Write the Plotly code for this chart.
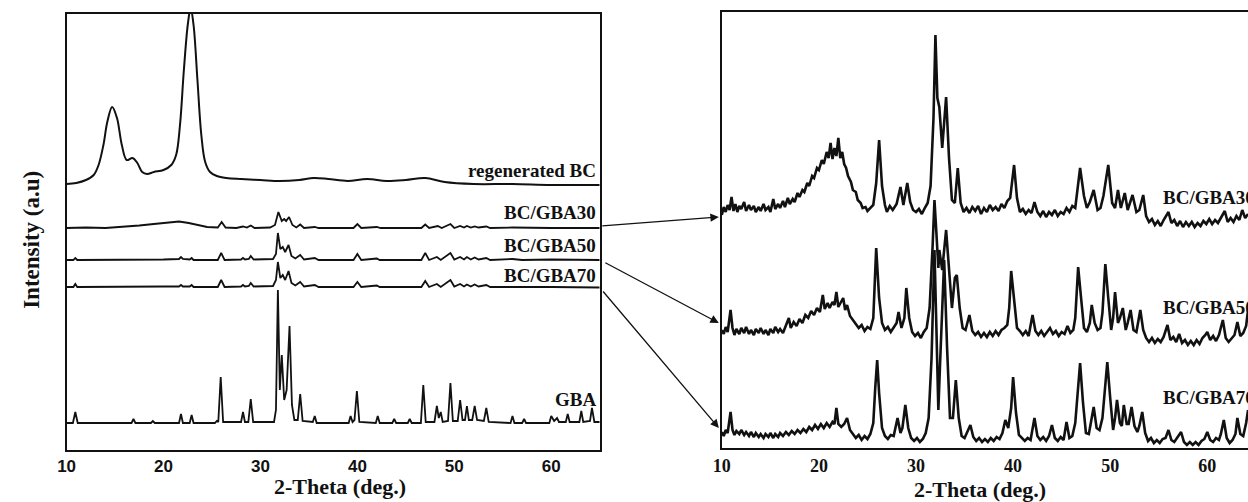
import plotly.graph_objects as go

W, H = 1248, 502

# ---------------- data (2-theta in degrees, intensity in a.u., stacked) ----------------
# Left panel
REGEN_BC = [(10, 266), (11, 267), (12, 270), (12.8, 275), (13.3, 285), (13.8, 305), (14.2, 328),
            (14.7, 343), (15.2, 332), (15.7, 305), (16.2, 290), (16.8, 292), (17.3, 287), (17.8, 278),
            (18.3, 276), (19, 278), (20, 280), (20.8, 285), (21.3, 295), (21.7, 325), (22.1, 380),
            (22.5, 425), (22.8, 442), (23.1, 425), (23.5, 370), (23.9, 315), (24.3, 288), (24.8, 278),
            (25.5, 274), (26.5, 272), (28, 271), (30, 270), (32, 269), (34, 270), (35.5, 272),
            (37, 271), (39, 269), (41, 271), (43, 269), (45, 270), (47, 272), (49, 268), (52, 266),
            (56, 266), (60, 265), (65, 265)]

GBA30_L = [(10, 222), (12, 222.5), (14, 222), (16, 223), (17.5, 224.5), (19, 226), (20.5, 227.5),
           (21.6, 228.5), (22.6, 227), (23.5, 225), (24.5, 223), (25.6, 222.5), (26.0, 228),
           (26.4, 222.5), (27.5, 222), (28.2, 223.5), (28.6, 222.5), (29.0, 224.5), (29.4, 222),
           (31.0, 222.5), (31.5, 225), (31.85, 238), (32.2, 229), (32.45, 231), (32.65, 229),
           (32.95, 233), (33.3, 225), (33.7, 222.5), (34.1, 225.5), (34.5, 222), (35.6, 223),
           (36, 222), (39.6, 222), (40.0, 226), (40.4, 222), (42.0, 223), (42.4, 222), (46.6, 222),
           (47.0, 225.5), (47.4, 222), (48.3, 224), (48.7, 222), (49.6, 226), (50.0, 222),
           (50.6, 224), (51.0, 222.5), (51.3, 224), (51.7, 222.5), (52.1, 223.5), (52.5, 222.5),
           (53.3, 223.5), (53.7, 222), (56, 222.5), (60, 222), (65, 222)]

GBA50_L = [(10, 190), (10.7, 190), (10.9, 192), (11.1, 190), (20, 190.5), (21.6, 191), (21.8, 193),
           (22.0, 191), (22.7, 190.5), (22.9, 192), (23.1, 190), (25.6, 190), (25.95, 197),
           (26.3, 190), (28.0, 190.5), (28.2, 192), (28.4, 190.5), (28.8, 191), (29.0, 194),
           (29.3, 190.5), (31.3, 191), (31.6, 196), (31.8, 217), (32.05, 201), (32.3, 203),
           (32.55, 198), (32.9, 205), (33.2, 194), (33.6, 191.5), (34.1, 195), (34.5, 190.5),
           (35.6, 192), (36, 190), (39.6, 190), (40.0, 196), (40.4, 190), (42.0, 191.5), (42.3, 190),
           (46.6, 190), (47.0, 197), (47.4, 190), (48.2, 193), (48.6, 190), (49.6, 197), (50.0, 190.5),
           (50.6, 193), (51.0, 190.5), (51.3, 193), (51.7, 190.5), (52.1, 192.5), (52.5, 190.5),
           (53.3, 192), (53.7, 190), (56, 191), (57, 190), (60, 190.5), (65, 190)]

GBA70_L = [(10, 163), (10.7, 163), (10.9, 166), (11.1, 163), (20, 163.5), (21.6, 163.5), (21.8, 165),
           (22.0, 163.5), (22.7, 163.5), (22.9, 165), (23.1, 163), (25.6, 163), (25.95, 170),
           (26.3, 163), (28.0, 163.5), (28.2, 165), (28.4, 163.5), (28.8, 164), (29.0, 167),
           (29.3, 163.5), (31.3, 164), (31.6, 170), (31.8, 188), (32.05, 172), (32.3, 175),
           (32.55, 170), (32.9, 179), (33.2, 167), (33.6, 164.5), (34.1, 168), (34.5, 163.5),
           (35.6, 165), (36, 163), (39.6, 163), (40.0, 168), (40.4, 163), (42.0, 164.5), (42.3, 163),
           (46.6, 163), (47.0, 169), (47.4, 163), (48.2, 166), (48.6, 163), (49.6, 170), (50.0, 163.5),
           (50.6, 166), (51.0, 163.5), (51.3, 165.5), (51.7, 163.5), (52.1, 165.5), (52.5, 163.5),
           (53.3, 165), (53.7, 163), (56, 163.5), (57, 163), (60, 163), (65, 162.5)]

GBA_L = [(10, 27), (10.65, 27), (10.9, 38), (11.15, 27), (16.7, 27), (16.9, 31), (17.1, 27),
         (18.7, 27), (18.9, 29), (19.1, 27), (21.6, 27), (21.8, 36), (22.0, 27), (22.7, 27),
         (22.9, 35), (23.1, 27), (25.3, 27), (25.5, 29), (25.65, 28), (25.9, 73), (26.15, 28),
         (28.0, 28), (28.2, 38), (28.4, 28), (28.75, 28), (29.0, 51), (29.25, 28), (31.4, 28),
         (31.6, 40), (31.8, 160), (32.0, 60), (32.2, 95), (32.45, 50), (32.7, 60), (33.0, 124),
         (33.25, 45), (33.5, 30), (33.85, 30), (34.1, 56), (34.35, 29), (35.4, 28), (35.6, 34),
         (35.8, 27), (39.1, 27), (39.3, 34), (39.5, 28), (39.7, 30), (39.95, 59), (40.2, 28),
         (41.9, 27), (42.1, 34), (42.3, 27), (43.6, 27), (43.8, 31), (44.0, 27), (45.2, 27),
         (45.4, 31), (45.6, 27), (46.55, 27), (46.8, 65), (47.05, 28), (47.95, 28), (48.2, 44),
         (48.4, 32), (48.6, 38), (48.8, 28), (49.35, 29), (49.6, 67), (49.85, 29), (50.35, 29),
         (50.6, 50), (50.85, 30), (51.1, 30), (51.3, 44), (51.5, 30), (51.85, 30), (52.1, 44),
         (52.35, 30), (53.05, 29), (53.3, 42), (53.55, 28), (55.8, 27), (56.0, 34), (56.2, 27),
         (57.0, 27), (57.2, 31), (57.4, 27), (59.8, 27), (60.0, 34), (60.3, 29), (60.6, 32),
         (60.8, 28), (61.5, 28), (61.7, 36), (61.9, 28), (62.9, 28), (63.1, 39), (63.3, 28),
         (64.0, 29), (64.2, 42), (64.45, 28), (65, 28)]

# Right panel (noisy patterns)
GBA30_R = [(10.0, 233), (10.2, 241), (10.4, 236), (10.6, 243), (10.8, 238), (11.0, 251), (11.2, 237),
           (11.4, 244), (11.6, 236), (11.8, 242), (12.0, 239), (12.3, 246), (12.5, 237), (12.8, 243),
           (13.0, 238), (13.3, 242), (13.5, 236), (13.8, 241), (14.0, 237), (14.3, 244), (14.5, 238),
           (14.8, 241), (15.0, 236), (15.3, 249), (15.5, 239), (15.8, 244), (16.0, 240), (16.3, 247),
           (16.5, 241), (16.8, 250), (17.0, 244), (17.3, 249), (17.5, 246), (17.8, 255), (18.0, 251),
           (18.3, 258), (18.5, 256), (18.8, 265), (19.0, 262), (19.3, 272), (19.5, 270), (19.8, 280),
           (20.0, 278), (20.3, 288), (20.5, 284), (20.8, 296), (21.0, 290), (21.2, 305), (21.4, 289),
           (21.6, 300), (21.8, 292), (22.0, 310), (22.2, 290), (22.4, 296), (22.6, 284), (22.8, 280),
           (23.0, 272), (23.3, 266), (23.5, 258), (23.8, 256), (24.0, 248), (24.3, 245), (24.5, 240),
           (24.8, 241), (25.0, 237), (25.3, 240), (25.6, 243), (25.9, 265), (26.2, 308), (26.5, 262),
           (26.8, 243), (27.0, 236), (27.3, 242), (27.6, 238), (28.0, 244), (28.4, 261), (28.7, 243),
           (29.1, 265), (29.4, 246), (29.7, 238), (30.0, 236), (30.3, 239), (30.6, 234), (30.9, 240),
           (31.2, 245), (31.5, 262), (31.8, 330), (32.0, 413), (32.2, 350), (32.4, 341), (32.7, 300),
           (33.1, 351), (33.4, 290), (33.7, 248), (34.0, 245), (34.3, 280), (34.6, 245), (34.9, 236),
           (35.2, 240), (35.5, 235), (35.8, 241), (36.1, 237), (36.4, 242), (36.7, 234), (37.0, 240),
           (37.3, 236), (37.6, 243), (37.9, 238), (38.2, 241), (38.5, 237), (38.8, 244), (39.1, 240),
           (39.4, 247), (39.7, 250), (40.1, 283), (40.4, 250), (40.7, 236), (41.0, 239), (41.3, 234),
           (41.6, 238), (41.9, 235), (42.2, 246), (42.5, 236), (42.8, 232), (43.1, 237), (43.4, 231),
           (43.7, 236), (44.0, 233), (44.3, 238), (44.6, 232), (44.9, 236), (45.2, 234), (45.5, 240),
           (45.8, 236), (46.1, 242), (46.4, 240), (46.9, 280), (47.3, 252), (47.6, 240), (47.9, 246),
           (48.3, 258), (48.7, 238), (49.0, 240), (49.3, 252), (49.8, 283), (50.2, 245), (50.5, 240),
           (50.8, 258), (51.1, 240), (51.5, 255), (51.8, 238), (52.3, 253), (52.7, 236), (53.0, 238),
           (53.4, 253), (53.7, 232), (54.0, 226), (54.3, 229), (54.6, 223), (54.9, 227), (55.2, 222),
           (55.5, 228), (56.0, 236), (56.3, 225), (56.6, 228), (56.9, 222), (57.2, 227), (57.5, 221),
           (57.8, 226), (58.1, 222), (58.4, 226), (58.7, 221), (59.0, 225), (59.3, 222), (59.6, 227),
           (59.9, 224), (60.2, 229), (60.5, 224), (60.8, 228), (61.1, 225), (61.4, 230), (61.8, 237),
           (62.1, 226), (62.4, 230), (62.7, 226), (63.0, 232), (63.3, 228), (63.6, 238), (63.9, 230),
           (64.2, 234)]

GBA50_R = [(10.0, 118), (10.2, 114), (10.4, 121), (10.6, 116), (10.9, 138), (11.1, 120), (11.3, 113),
           (11.5, 119), (11.8, 114), (12.0, 120), (12.3, 115), (12.5, 121), (12.8, 114), (13.0, 118),
           (13.3, 113), (13.5, 119), (13.8, 115), (14.0, 120), (14.3, 114), (14.5, 118), (14.8, 113),
           (15.0, 119), (15.3, 115), (15.5, 121), (15.8, 116), (16.0, 119), (16.3, 115), (16.6, 122),
           (16.9, 130), (17.1, 120), (17.4, 126), (17.7, 122), (18.0, 129), (18.3, 125), (18.6, 133),
           (18.9, 130), (19.2, 137), (19.5, 133), (19.8, 140), (20.1, 136), (20.4, 153), (20.6, 139),
           (20.9, 145), (21.1, 140), (21.4, 146), (21.6, 143), (21.8, 156), (22.0, 141), (22.3, 147),
           (22.5, 150), (22.7, 138), (22.9, 143), (23.2, 132), (23.5, 128), (23.8, 124), (24.1, 120),
           (24.4, 123), (24.7, 117), (25.0, 121), (25.3, 119), (25.6, 130), (25.9, 200), (26.2, 150),
           (26.5, 125), (26.8, 118), (27.1, 121), (27.4, 116), (27.7, 120), (28.0, 125), (28.2, 136),
           (28.5, 120), (28.8, 130), (29.0, 160), (29.3, 130), (29.6, 116), (29.9, 112), (30.2, 115),
           (30.5, 110), (30.8, 116), (31.1, 120), (31.4, 140), (31.7, 200), (31.9, 248), (32.1, 215),
           (32.3, 180), (32.4, 198), (32.7, 178), (33.1, 218), (33.4, 180), (33.7, 140), (34.0, 170),
           (34.2, 173), (34.5, 140), (34.8, 120), (35.1, 118), (35.5, 133), (35.8, 117), (36.1, 113),
           (36.4, 116), (36.7, 111), (37.0, 115), (37.3, 111), (37.6, 116), (37.9, 112), (38.2, 117),
           (38.5, 113), (38.8, 118), (39.1, 120), (39.4, 123), (39.6, 140), (39.8, 177), (40.1, 150),
           (40.4, 120), (40.7, 117), (41.0, 113), (41.3, 117), (41.6, 112), (42.0, 133), (42.3, 117),
           (42.6, 113), (42.9, 117), (43.2, 112), (43.5, 116), (43.8, 120), (44.1, 114), (44.4, 117),
           (44.7, 112), (45.0, 116), (45.3, 114), (45.6, 122), (45.9, 115), (46.2, 118), (46.4, 130),
           (46.7, 181), (47.0, 150), (47.3, 120), (47.6, 116), (47.9, 125), (48.1, 143), (48.4, 125),
           (48.7, 118), (49.0, 120), (49.2, 135), (49.5, 184), (49.8, 150), (50.1, 118), (50.3, 130),
           (50.5, 156), (50.8, 125), (51.0, 130), (51.3, 140), (51.6, 118), (51.8, 125), (52.1, 138),
           (52.4, 118), (52.7, 116), (53.1, 138), (53.4, 118), (53.7, 110), (54.0, 106), (54.3, 110),
           (54.6, 105), (54.9, 109), (55.2, 106), (55.5, 111), (55.9, 123), (56.2, 108), (56.5, 111),
           (56.8, 106), (57.1, 114), (57.4, 105), (57.7, 108), (58.0, 103), (58.3, 107), (58.6, 103),
           (58.9, 108), (59.2, 104), (59.5, 110), (59.8, 113), (60.0, 116), (60.3, 108), (60.6, 112),
           (60.9, 107), (61.2, 113), (61.6, 128), (61.9, 110), (62.2, 106), (62.5, 109), (62.8, 113),
           (63.1, 126), (63.4, 112), (63.7, 115), (64.0, 122), (64.2, 138)]

GBA70_R = [(10.0, 16), (10.2, 12), (10.4, 18), (10.6, 15), (10.9, 36), (11.1, 18), (11.3, 13),
           (11.5, 17), (11.8, 14), (12.0, 18), (12.3, 13), (12.5, 16), (12.8, 12), (13.0, 16),
           (13.3, 11), (13.5, 15), (13.8, 11), (14.0, 14), (14.3, 10), (14.5, 14), (14.8, 11),
           (15.0, 15), (15.3, 10), (15.5, 14), (15.8, 11), (16.0, 15), (16.3, 12), (16.6, 16),
           (16.9, 13), (17.2, 17), (17.5, 14), (17.8, 18), (18.1, 15), (18.4, 19), (18.7, 16),
           (19.0, 21), (19.3, 18), (19.6, 23), (19.9, 19), (20.2, 24), (20.5, 20), (20.8, 25),
           (21.1, 21), (21.4, 26), (21.6, 24), (21.8, 40), (22.0, 24), (22.3, 21), (22.6, 24),
           (22.9, 30), (23.2, 18), (23.5, 14), (23.8, 10), (24.1, 13), (24.4, 8), (24.7, 12),
           (25.0, 9), (25.3, 14), (25.6, 25), (25.8, 60), (26.0, 88), (26.2, 55), (26.5, 20),
           (26.8, 12), (27.1, 9), (27.4, 13), (27.7, 12), (28.1, 30), (28.4, 15), (28.6, 20),
           (28.9, 43), (29.2, 20), (29.5, 10), (29.8, 7), (30.1, 10), (30.4, 6), (30.7, 9),
           (31.0, 15), (31.3, 30), (31.6, 90), (31.9, 198), (32.1, 120), (32.3, 38), (32.5, 90),
           (32.9, 188), (33.2, 100), (33.5, 30), (33.8, 30), (34.1, 68), (34.4, 30), (34.7, 12),
           (35.0, 10), (35.2, 14), (35.6, 23), (35.9, 11), (36.2, 7), (36.5, 10), (36.8, 6),
           (37.1, 9), (37.4, 6), (37.7, 10), (38.0, 7), (38.3, 11), (38.6, 9), (38.9, 15),
           (39.2, 28), (39.5, 20), (39.8, 40), (40.0, 71), (40.3, 35), (40.6, 13), (40.9, 10),
           (41.2, 7), (41.5, 10), (41.8, 8), (42.2, 30), (42.5, 12), (42.8, 8), (43.1, 11),
           (43.4, 7), (43.7, 12), (44.0, 23), (44.3, 10), (44.6, 7), (44.9, 11), (45.2, 8),
           (45.5, 26), (45.8, 10), (46.1, 12), (46.4, 25), (46.6, 50), (46.9, 85), (47.2, 45),
           (47.5, 15), (47.8, 14), (48.0, 25), (48.3, 41), (48.6, 20), (48.9, 18), (49.2, 30),
           (49.4, 55), (49.7, 86), (50.0, 50), (50.3, 18), (50.5, 30), (50.7, 48), (51.0, 25),
           (51.2, 22), (51.4, 43), (51.7, 24), (51.9, 24), (52.2, 41), (52.5, 22), (52.8, 16),
           (53.0, 22), (53.3, 36), (53.6, 15), (53.9, 7), (54.2, 10), (54.5, 5), (54.8, 8),
           (55.1, 5), (55.4, 9), (55.7, 10), (56.0, 18), (56.3, 8), (56.6, 6), (56.9, 10),
           (57.3, 16), (57.6, 6), (57.9, 3), (58.2, 6), (58.5, 3), (58.8, 6), (59.1, 3),
           (59.4, 7), (59.7, 9), (60.0, 16), (60.3, 8), (60.6, 6), (60.9, 10), (61.2, 8),
           (61.4, 14), (61.7, 28), (62.0, 10), (62.3, 5), (62.6, 8), (62.9, 14), (63.1, 30),
           (63.4, 14), (63.7, 12), (64.0, 25), (64.2, 38)]

LEFT_LABELS = ["regenerated BC", "BC/GBA30", "BC/GBA50", "BC/GBA70", "GBA"]
RIGHT_LABELS = ["BC/GBA30", "BC/GBA50", "BC/GBA70"]
X_TICKS = [10, 20, 30, 40, 50, 60]

# ---------------- figure ----------------
INK = "#111111"
fig = go.Figure()


def add_curve(pts, xa, ya, width, shape="linear"):
    fig.add_trace(go.Scatter(
        x=[p[0] for p in pts], y=[p[1] for p in pts], mode="lines",
        line=dict(color=INK, width=width, shape=shape),
        xaxis=xa, yaxis=ya, showlegend=False, hoverinfo="skip"))


add_curve(REGEN_BC, "x", "y", 2.0, "spline")
for c in (GBA30_L, GBA50_L, GBA70_L, GBA_L):
    add_curve(c, "x", "y", 1.8)
for c in (GBA30_R, GBA50_R, GBA70_R):
    add_curve(c, "x2", "y2", 2.6)


def px(xp):
    return xp / W


def py(yp):
    return 1 - yp / H


axis_common = dict(showgrid=False, zeroline=False, showline=True, linecolor=INK, linewidth=2, ticks="")

fig.update_layout(
    width=W, height=H, margin=dict(l=0, r=0, t=0, b=0),
    paper_bgcolor="white", plot_bgcolor="white",
    xaxis=dict(domain=[px(58), px(595)], range=[10, 65], mirror=True, tickvals=X_TICKS,
               tickfont=dict(family="Liberation Sans", size=17, color=INK, weight="bold"),
               anchor="y", **axis_common),
    yaxis=dict(domain=[py(450), py(14)], range=[0, 436], mirror=True, showticklabels=False,
               anchor="x", **axis_common),
    xaxis2=dict(domain=[px(718), 1.0], range=[10, 10 + 530 / 9.78], mirror=True, tickvals=X_TICKS,
                tickfont=dict(family="Liberation Serif", size=18, color=INK, weight="bold"),
                anchor="y2", **axis_common),
    yaxis2=dict(domain=[py(448), py(12)], range=[0, 436], mirror=False, showticklabels=False,
                anchor="x2", **axis_common),
)

label_font = dict(family="Liberation Serif", size=19, color=INK, weight="bold")
ann = []
# left curve labels (right aligned near the frame)
for text, yp in zip(LEFT_LABELS, [171, 212, 245, 275, 399]):
    ann.append(dict(text=text, x=px(593), y=py(yp), xref="paper", yref="paper",
                    xanchor="right", yanchor="middle", showarrow=False, font=label_font))
# right curve labels (run past the page edge as in the original figure)
for text, yp in zip(RIGHT_LABELS, [197, 307, 397]):
    ann.append(dict(text=text, x=px(1160), y=py(yp), xref="paper", yref="paper",
                    xanchor="left", yanchor="middle", showarrow=False, font=label_font))

title_font = dict(family="Liberation Serif", size=22, color=INK, weight="bold")
ann.append(dict(text="2-Theta (deg.)", x=px(333), y=py(486), xref="paper", yref="paper",
                xanchor="center", yanchor="middle", showarrow=False, font=title_font))
ann.append(dict(text="2-Theta (deg.)", x=px(978), y=py(489), xref="paper", yref="paper",
                xanchor="center", yanchor="middle", showarrow=False, font=title_font))
ann.append(dict(text="Intensity (a.u)", x=px(22), y=py(240), xref="paper", yref="paper",
                xanchor="center", yanchor="middle", showarrow=False, textangle=-90,
                font=dict(family="Liberation Serif", size=23, color=INK, weight="bold")))

# arrows from the left patterns to the magnified right patterns
for tip, tail in [((715, 217), (597, 226)), ((715, 323), (600, 262)), ((715, 428), (598, 290))]:
    ann.append(dict(text="", x=px(tip[0]), y=py(tip[1]), xref="paper", yref="paper",
                    ax=tail[0] - tip[0], ay=tail[1] - tip[1], axref="pixel", ayref="pixel",
                    showarrow=True, arrowhead=2, arrowsize=1.3, arrowwidth=1.3,
                    arrowcolor=INK, standoff=0, startstandoff=0))

fig.update_layout(annotations=ann)
fig.write_html("out.html")
